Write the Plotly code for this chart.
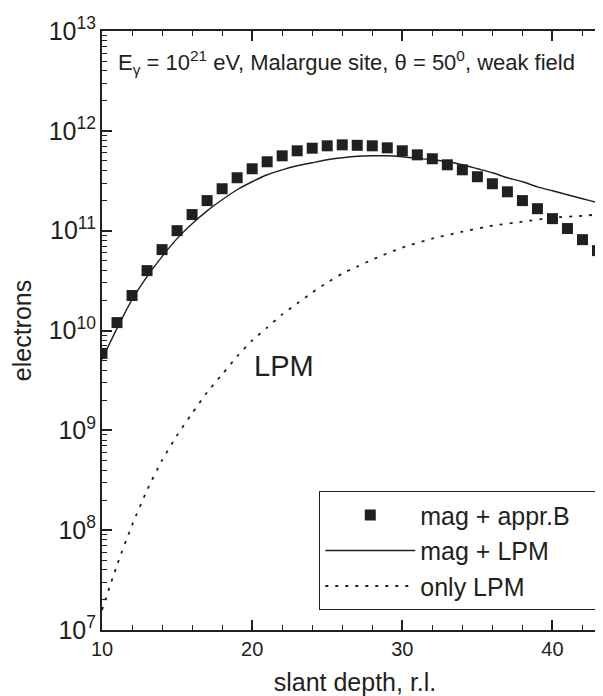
import plotly.graph_objects as go

# ---- data ----
depth_sq = list(range(10, 45))
electrons_sq = [5.9e9, 1.2e10, 2.24e10, 3.98e10, 6.46e10, 1.0e11, 1.45e11, 2.0e11,
                2.63e11, 3.39e11, 4.17e11, 4.9e11, 5.62e11, 6.31e11, 6.7e11, 7.08e11,
                7.24e11, 7.16e11, 7.08e11, 6.76e11, 6.31e11, 5.75e11, 5.25e11, 4.57e11,
                4.07e11, 3.47e11, 2.95e11, 2.45e11, 2.0e11, 1.66e11, 1.32e11, 1.05e11,
                8.13e10, 6.31e10, 5.0e10]

depth_mag = [10, 11, 12, 13, 14, 15, 16, 17, 18, 19, 20, 21, 22, 23, 24, 25, 26, 27,
             28, 29, 30, 31, 32, 33, 34, 35, 36, 37, 38, 39, 40, 41, 42, 43, 43.7]
electrons_mag = [5.13e9, 1.05e10, 2.04e10, 3.47e10, 5.5e10, 8.32e10, 1.17e11, 1.58e11,
                 2.04e11, 2.57e11, 3.09e11, 3.63e11, 4.07e11, 4.47e11, 4.79e11, 5.13e11,
                 5.37e11, 5.56e11, 5.62e11, 5.62e11, 5.5e11, 5.31e11, 5.13e11, 4.9e11,
                 4.57e11, 4.17e11, 3.8e11, 3.39e11, 3.09e11, 2.75e11, 2.51e11, 2.29e11,
                 2.09e11, 1.91e11, 1.78e11]

depth_lpm = [10, 11, 12, 13, 14, 15, 16, 17, 18, 19, 20, 21, 22, 23, 24, 25, 26, 27,
             28, 30, 32, 34, 36, 38, 40, 42, 43.7]
electrons_lpm = [1.58e7, 4.47e7, 1.12e8, 2.51e8, 5.01e8, 8.91e8, 1.48e9, 2.4e9, 3.63e9,
                 5.5e9, 7.94e9, 1.07e10, 1.45e10, 1.86e10, 2.4e10, 3.02e10, 3.72e10,
                 4.37e10, 5.13e10, 6.76e10, 8.32e10, 9.77e10, 1.12e11, 1.23e11, 1.35e11,
                 1.41e11, 1.48e11]

series_names = ["mag + appr.B\u00a0\u00a0\u00a0", "mag + LPM", "only LPM"]
x_ticks = [10, 20, 30, 40]

INK = "#231f20"
FONT = "Liberation Sans, Arial, Helvetica, sans-serif"

fig = go.Figure()
fig.add_trace(go.Scatter(x=depth_sq, y=electrons_sq, mode="markers", name=series_names[0],
                         marker=dict(symbol="square", size=11, color=INK, line=dict(width=0)),
                         cliponaxis=True))
fig.add_trace(go.Scatter(x=depth_mag, y=electrons_mag, mode="lines", name=series_names[1],
                         line=dict(color=INK, width=1.4, shape="spline", smoothing=0.6)))
fig.add_trace(go.Scatter(x=depth_lpm, y=electrons_lpm, mode="lines", name=series_names[2],
                         line=dict(color=INK, width=1.8, dash="3px,7px", shape="spline",
                                   smoothing=0.6)))

axis_common = dict(showline=True, linewidth=2, linecolor=INK, mirror="allticks",
                   ticks="inside", ticklen=10, tickwidth=1.6, tickcolor=INK,
                   showgrid=False, zeroline=False, automargin=False,
                   tickfont=dict(size=20, color=INK, family=FONT))

fig.update_xaxes(range=[10, 43.7], tickvals=x_ticks,
                 minor=dict(dtick=2, ticks="inside", ticklen=5, tickwidth=1.2, tickcolor=INK),
                 title=dict(text="slant depth, r.l.", font=dict(size=25, color=INK, family=FONT),
                            standoff=14),
                 **axis_common)
fig.update_yaxes(type="log", range=[7, 13], dtick=1, exponentformat="power",
                 minor=dict(dtick="D1", ticks="inside", ticklen=5, tickwidth=1.2, tickcolor=INK),
                 title=dict(text="electrons", font=dict(size=25, color=INK, family=FONT),
                            standoff=14),
                 **axis_common)

fig.add_annotation(text="E<sub>γ</sub> = 10<sup>21</sup> eV, Malargue site, θ = 50<sup>0</sup>, weak field",
                   xref="paper", yref="paper", x=0.0277, y=0.947, xanchor="left", yanchor="middle",
                   showarrow=False, font=dict(size=22, color=INK, family=FONT))
fig.add_annotation(text="LPM", x=22.1, y=9.64, xref="x", yref="y", showarrow=False,
                   font=dict(size=29, color=INK, family=FONT))

fig.update_layout(
    width=603, height=696,
    margin=dict(l=94, r=3, t=23, b=74),
    paper_bgcolor="white", plot_bgcolor="white",
    font=dict(family=FONT, color=INK),
    legend=dict(x=0.429, y=0.232, xanchor="left", yanchor="top",
                bordercolor=INK, borderwidth=1.2, bgcolor="white",
                font=dict(size=25, color=INK, family=FONT),
                itemwidth=90, tracegroupgap=0),
    showlegend=True,
)

fig.write_html("out.html")
